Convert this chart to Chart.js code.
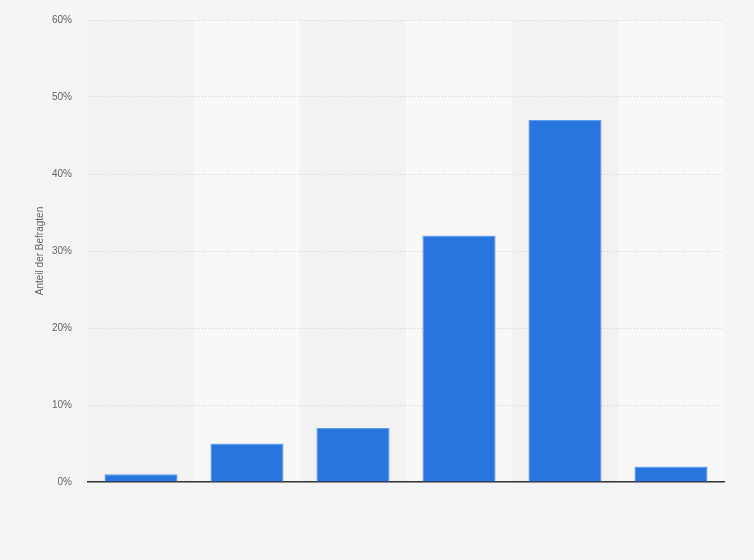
<!DOCTYPE html>
<html><head><meta charset="utf-8">
<script src="https://cdn.jsdelivr.net/npm/chart.js@4/dist/chart.umd.min.js"></script>
<style>html,body{margin:0;padding:0;background:#f4f4f4;}#wrap{width:754px;height:560px;}</style>
</head><body><div id="wrap"><canvas id="c" width="754" height="560"></canvas></div>
<script>
const categories = ['Kategorie 1','Kategorie 2','Kategorie 3','Kategorie 4','Kategorie 5','Kategorie 6'];
const values = [1, 5, 7, 32, 47, 2];
const yTicks = [0, 10, 20, 30, 40, 50, 60];

const bands = {
  id: 'bands',
  beforeDraw(chart) {
    const {ctx, chartArea, scales} = chart;
    const x = scales.x;
    ctx.save();
    ctx.fillStyle = '#f4f4f4';
    ctx.fillRect(0, 0, chart.width, chart.height);
    categories.forEach((c, i) => {
      const cx = x.getPixelForValue(i);
      const w = x.width / categories.length;
      ctx.fillStyle = i % 2 === 0 ? '#f2f2f2' : '#f8f8f8';
      ctx.fillRect(cx - w / 2, chartArea.top, w, chartArea.bottom - chartArea.top);
    });
    ctx.restore();
  }
};

new Chart(document.getElementById('c'), {
  type: 'bar',
  data: { labels: categories, datasets: [{ data: values, backgroundColor: '#2876dd', borderColor: '#5b9be8', borderWidth: {top:1,left:1,right:1,bottom:0}, barPercentage: 0.69, categoryPercentage: 1 }] },
  options: {
    responsive: false, animation: false,
    layout: { padding: { top: 20, right: 30, bottom: 70, left: 34 } },
    plugins: { legend: { display: false }, tooltip: { enabled: false } },
    scales: {
      x: { ticks: { display: false }, grid: { display: false }, border: { display: true, color: '#333', width: 1.5 } },
      y: {
        min: 0, max: 60,
        afterBuildTicks(s) { s.ticks = yTicks.map(v => ({ value: v })); },
        afterFit(s) { s.width = 54; s.paddingTop = 0; s.paddingBottom = 0; },
        ticks: { callback: v => v + '%', color: '#666', font: { family: 'Arial, Liberation Sans, sans-serif', size: 10 }, padding: 16 },
        grid: { color: '#d0d0d0', lineWidth: 1, drawTicks: false },
        border: { display: false, dash: [1, 2] },
        title: { display: true, text: 'Anteil der Befragten', color: '#666', font: { family: 'Arial, Liberation Sans, sans-serif', size: 10 }, padding: { top: 0, bottom: 0 } }
      }
    }
  },
  plugins: [bands]
});
</script></body></html>
